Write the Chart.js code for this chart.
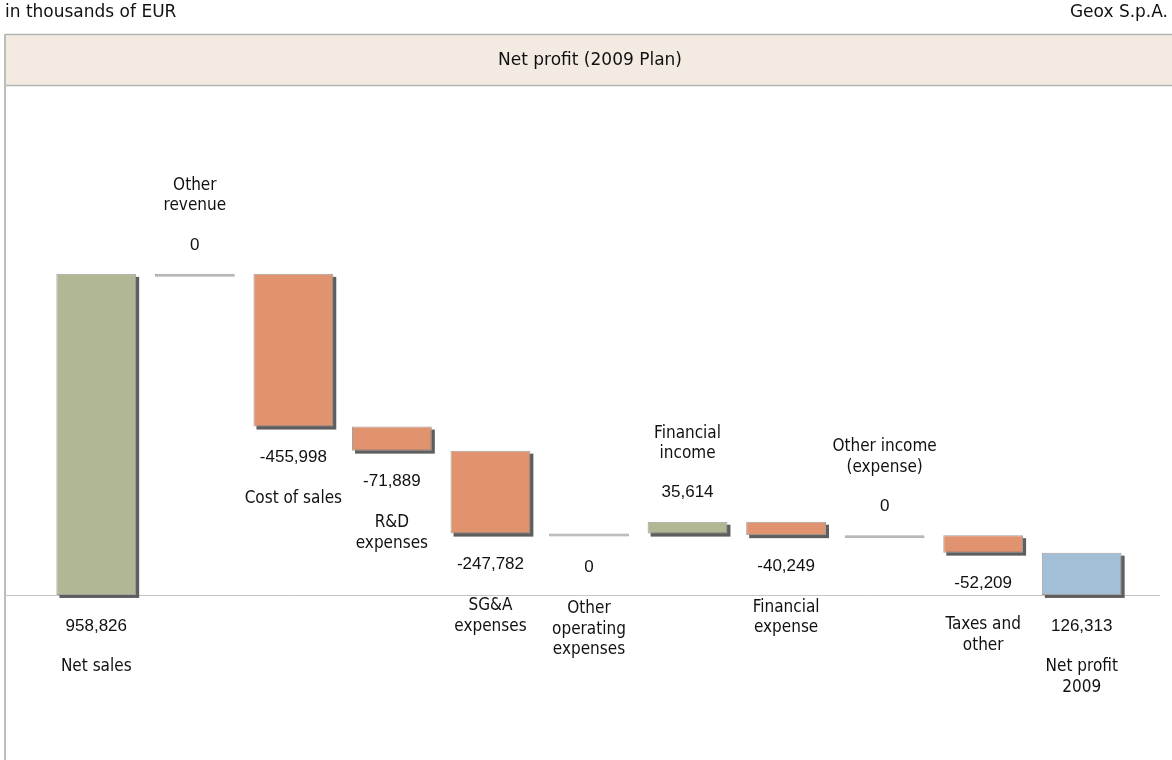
<!DOCTYPE html>
<html>
<head>
<meta charset="utf-8">
<title>Net profit (2009 Plan)</title>
<script src="https://cdn.jsdelivr.net/npm/chart.js@4.4.1/dist/chart.umd.min.js"></script>
<style>
  html, body { margin: 0; padding: 0; background: #fff; }
  canvas { display: block; }
</style>
</head>
<body>
<canvas id="waterfall" width="1172" height="760"></canvas>
<script>
// values in thousands of EUR
const categories = [
  ['Net sales'],
  ['Other', 'revenue'],
  ['Cost of sales'],
  ['R&D', 'expenses'],
  ['SG&A', 'expenses'],
  ['Other', 'operating', 'expenses'],
  ['Financial', 'income'],
  ['Financial', 'expense'],
  ['Other income', '(expense)'],
  ['Taxes and', 'other'],
  ['Net profit', '2009']
];
const amounts = [958826, 0, -455998, -71889, -247782, 0, 35614, -40249, 0, -52209, 126313];
const kinds = ['total', 'income', 'expense', 'expense', 'expense', 'expense', 'income', 'expense', 'income', 'expense', 'total'];

const titleText = 'Net profit (2009 Plan)';
const unitText = 'in thousands of EUR';
const companyText = 'Geox S.p.A.';

const GREEN = '#b1b795', ORANGE = '#e1936f', BLUE = '#a3bfd6', GREY = '#a9a9a9';
const labelFont = '17px "DejaVu Sans Condensed", "DejaVu Sans", sans-serif';
const headerFont = '17px "DejaVu Sans", sans-serif';
const numberFont = '17px "Liberation Sans", Arial, sans-serif';

// floating ranges for the waterfall
let running = 0;
const ranges = amounts.map(function (v, i) {
  if (kinds[i] === 'total') {
    running = v;
    return [0, v];
  }
  const start = running;
  running += v;
  return [start, running];
});

const colors = amounts.map(function (v, i) {
  if (v === 0) return GREY;
  if (i === amounts.length - 1) return BLUE;
  return v > 0 ? GREEN : ORANGE;
});
const borders = amounts.map(function (v) { return v === 0 ? GREY : '#a0a0a0'; });

// frame, header band and zero line
const framePlugin = {
  id: 'frame',
  beforeDraw(chart) {
    const ctx = chart.ctx;
    const y0 = chart.scales.y.getPixelForValue(0);
    ctx.save();
    ctx.fillStyle = '#f3ebe1';
    ctx.fillRect(5, 35, chart.width - 5, 50);
    ctx.strokeStyle = '#b4b4b4';
    ctx.lineWidth = 1.5;
    ctx.beginPath();
    ctx.moveTo(5, 34.5); ctx.lineTo(chart.width, 34.5);
    ctx.moveTo(5, 85.5); ctx.lineTo(chart.width, 85.5);
    ctx.stroke();
    ctx.lineWidth = 2;
    ctx.strokeStyle = '#bdbdbd';
    ctx.beginPath();
    ctx.moveTo(5, 34); ctx.lineTo(5, chart.height);
    ctx.stroke();
    ctx.lineWidth = 1;
    ctx.strokeStyle = '#c4c4c4';
    ctx.beginPath();
    ctx.moveTo(5, Math.round(y0) + 0.5); ctx.lineTo(1160, Math.round(y0) + 0.5);
    ctx.stroke();

    ctx.fillStyle = '#111';
    ctx.font = headerFont;
    ctx.textBaseline = 'middle';
    ctx.textAlign = 'left';
    ctx.fillText(unitText, 5, 13);
    ctx.textAlign = 'right';
    ctx.fillText(companyText, 1168, 13);
    ctx.textAlign = 'center';
    ctx.fillText(titleText, 590, 61);
    ctx.restore();
  }
};

// drop shadow to the right and below each bar
const shadowPlugin = {
  id: 'barShadow',
  beforeDatasetsDraw(chart) {
    const ctx = chart.ctx;
    const meta = chart.getDatasetMeta(0);
    ctx.save();
    ctx.fillStyle = '#5e5e5e';
    meta.data.forEach(function (bar, i) {
      if (amounts[i] === 0) return;
      const top = Math.min(bar.y, bar.base);
      const h = Math.abs(bar.y - bar.base);
      ctx.fillRect(bar.x - bar.width / 2 + 3, top + 3, bar.width, h);
    });
    ctx.restore();
  }
};

// value and category labels
const labelPlugin = {
  id: 'wfLabels',
  afterDatasetsDraw(chart) {
    const ctx = chart.ctx;
    const meta = chart.getDatasetMeta(0);
    const lh = 20.5;
    ctx.save();
    ctx.fillStyle = '#111';
    ctx.textAlign = 'center';
    ctx.textBaseline = 'middle';
    meta.data.forEach(function (bar, i) {
      const top = Math.min(bar.y, bar.base);
      const bottom = Math.max(bar.y, bar.base);
      const lines = categories[i];
      const valueText = amounts[i].toLocaleString('en-US');
      if (kinds[i] === 'income') {
        ctx.font = numberFont;
        ctx.fillText(valueText, bar.x, top - 29);
        ctx.font = labelFont;
        lines.forEach(function (t, k) {
          ctx.fillText(t, bar.x, top - 68 - (lines.length - 1 - k) * lh);
        });
      } else {
        ctx.font = numberFont;
        ctx.fillText(valueText, bar.x, bottom + 31);
        ctx.font = labelFont;
        lines.forEach(function (t, k) {
          ctx.fillText(t, bar.x, bottom + 72 + k * lh);
        });
      }
    });
    ctx.restore();
  }
};

const ctx = document.getElementById('waterfall').getContext('2d');
const waterfallChart = new Chart(ctx, {
  type: 'bar',
  data: {
    labels: categories,
    datasets: [{
      data: ranges,
      backgroundColor: colors,
      borderColor: borders,
      borderWidth: 1,
      borderSkipped: false,
      minBarLength: 3,
      barPercentage: 0.81,
      categoryPercentage: 1
    }]
  },
  options: {
    responsive: false,
    animation: false,
    layout: {
      padding: { left: 47, right: 41, top: 95, bottom: 5 }
    },
    plugins: {
      legend: { display: false },
      tooltip: { enabled: false }
    },
    scales: {
      x: { display: false },
      y: { display: false, min: -478000, max: 1493000 }
    }
  },
  plugins: [framePlugin, shadowPlugin, labelPlugin]
});
</script>
</body>
</html>
